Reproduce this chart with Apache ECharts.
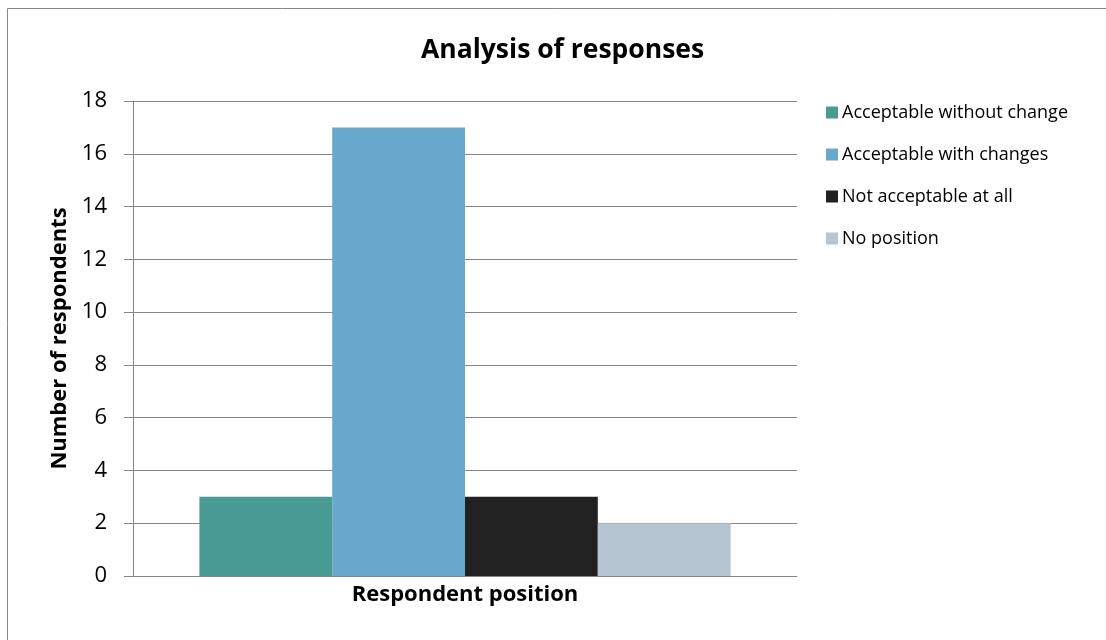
<!DOCTYPE html>
<html>
<head>
<meta charset="utf-8">
<script src="https://cdn.jsdelivr.net/npm/echarts@6/dist/echarts.min.js"></script>
<style>
  html, body { margin: 0; padding: 0; background: #fff; }
  #chart { width: 1106px; height: 640px; }
</style>
</head>
<body>
<div id="chart"></div>
<script>
// data
var categories = ['Respondent position'];
var seriesNames = ['Acceptable without change', 'Acceptable with changes', 'Not acceptable at all', 'No position'];
var seriesValues = [[3], [17], [3], [2]];
var seriesColors = ['#4a9a96', '#67a8cc', '#212121', '#b5c5d1'];

var fontFam = '"Open Sans", "Noto Sans", sans-serif';

var myChart = echarts.init(document.getElementById('chart'));

var series = [];
for (var i = 0; i < seriesNames.length; i++) {
  series.push({
    name: seriesNames[i],
    type: 'bar',
    data: seriesValues[i],
    barGap: '0%',
    barCategoryGap: '20%',
    itemStyle: { color: seriesColors[i] }
  });
}

var option = {
  animation: false,
  backgroundColor: '#fff',
  textStyle: { fontFamily: fontFam },
  title: {
    text: 'Analysis of responses',
    left: 421,
    top: 37,
    padding: 0,
    textStyle: { fontSize: 26.5, fontWeight: 'bold', color: '#000', fontFamily: fontFam }
  },
  legend: {
    orient: 'vertical',
    left: 821,
    top: 97,
    itemWidth: 12,
    itemHeight: 12,
    itemGap: 21,
    icon: 'rect',
    textStyle: { fontSize: 18, lineHeight: 21, color: '#000', fontFamily: fontFam, padding: [0, 0, 0, -1] },
    data: seriesNames
  },
  grid: { left: 133, top: 101, width: 664, height: 475 },
  xAxis: {
    type: 'category',
    data: categories,
    axisLabel: { show: false },
    axisTick: { show: false },
    axisLine: { lineStyle: { color: '#868686', width: 1 } },
    name: 'Respondent position',
    nameLocation: 'middle',
    nameGap: 8,
    nameTextStyle: { fontSize: 22, fontWeight: 'bold', color: '#000', fontFamily: fontFam }
  },
  yAxis: {
    type: 'value',
    min: 0,
    max: 18,
    interval: 2,
    axisLine: { show: true, lineStyle: { color: '#868686', width: 1 } },
    axisTick: { show: true, length: 9, lineStyle: { color: '#868686' } },
    axisLabel: { fontSize: 22, color: '#000', margin: 26, fontFamily: fontFam },
    splitLine: { lineStyle: { color: '#868686', width: 1 } },
    name: 'Number of respondents',
    nameLocation: 'middle',
    nameGap: 62,
    nameTextStyle: { fontSize: 22, fontWeight: 'bold', color: '#000', fontFamily: fontFam }
  },
  graphic: [{
    type: 'rect',
    shape: { x: 7.5, y: 8.5, width: 1110, height: 640 },
    style: { fill: 'none', stroke: '#868686', lineWidth: 1 },
    silent: true
  }],
  series: series
};

myChart.setOption(option);
</script>
</body>
</html>
